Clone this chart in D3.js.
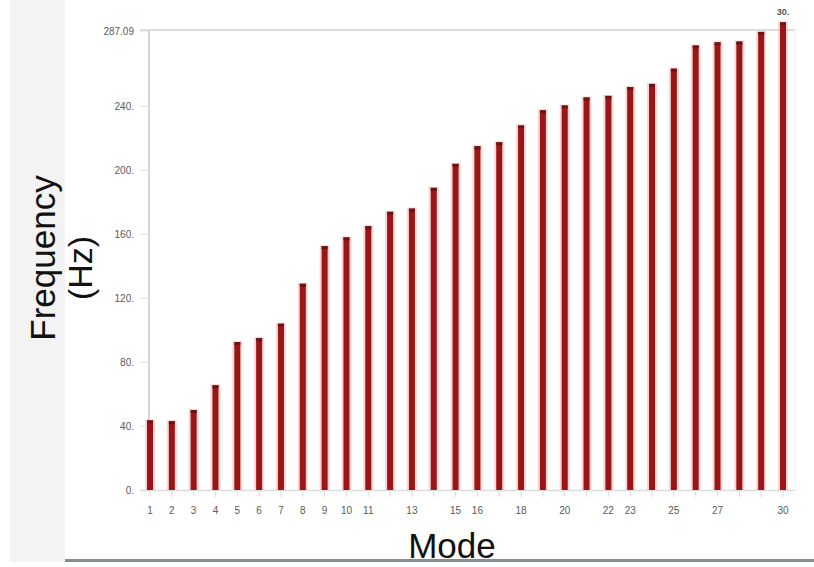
<!DOCTYPE html>
<html lang="en">
<head>
<meta charset="utf-8">
<title>Mode Frequencies</title>
<style>
  body { margin: 0; background: #fff; }
  text { font-family: "Liberation Sans", Arial, sans-serif; }
  .tick-lbl { font-size: 10px; fill: #5a5a5a; }
</style>
</head>
<body>
<svg width="814" height="567"></svg>
<script src="https://cdnjs.cloudflare.com/ajax/libs/d3/7.8.5/d3.min.js"></script>
<script>
// mode numbers and their natural frequencies (Hz)
var modes = d3.range(1, 31);
var freqs = [43.5, 43, 50, 65.5, 92.5, 95, 104, 129, 152.5, 158,
             165, 174, 176, 189, 204, 215, 217.5, 228, 237.5, 240.5,
             245.5, 246.5, 252, 254, 263.5, 278, 280, 280.5, 286.5, 292.5];
var xLabels = [1, 2, 3, 4, 5, 6, 7, 8, 9, 10, 11, 13, 15, 16, 18, 20, 22, 23, 25, 27, 30];
var yTicks = [0, 40, 80, 120, 160, 200, 240, 287.09];
var yTickText = ["0.", "40.", "80.", "120.", "160.", "200.", "240.", "287.09"];

var svg = d3.select("svg");

// light grey strip on the left, and rule along the bottom
svg.append("rect").attr("x", 10).attr("y", 0).attr("width", 55).attr("height", 562).attr("fill", "#f3f3f3");
svg.append("rect").attr("x", 65).attr("y", 559).attr("width", 749).attr("height", 3).attr("fill", "#868c95");

var x = d3.scaleLinear().domain([1, 30]).range([150, 783]);
var y = d3.scaleLinear().domain([0, 287.09]).range([490, 31]);

// plot frame
svg.append("line").attr("x1", 140).attr("x2", 795).attr("y1", 30).attr("y2", 30)
  .attr("stroke", "#dcdcdc").attr("stroke-width", 2);
svg.append("line").attr("x1", 795).attr("x2", 795).attr("y1", 30).attr("y2", 490)
  .attr("stroke", "#ececec").attr("stroke-width", 1);
svg.append("line").attr("x1", 140).attr("x2", 795).attr("y1", 490.5).attr("y2", 490.5)
  .attr("stroke", "#dcdcdc").attr("stroke-width", 1.5);
svg.append("line").attr("x1", 149).attr("x2", 149).attr("y1", 30).attr("y2", 491)
  .attr("stroke", "#d6d6d6").attr("stroke-width", 2);

// y ticks
var yg = svg.append("g");
yg.selectAll("line").data(yTicks).enter().append("line")
  .attr("x1", 140).attr("x2", 148)
  .attr("y1", function(d) { return y(d); }).attr("y2", function(d) { return y(d); })
  .attr("stroke", "#e0e0e0");
yg.selectAll("text").data(yTicks).enter().append("text")
  .attr("class", "tick-lbl")
  .attr("x", 134).attr("y", function(d) { return y(d) + 4; })
  .attr("text-anchor", "end")
  .text(function(d, i) { return yTickText[i]; });

// bars: soft pink halo behind a dark red core
var data = modes.map(function(m, i) { return {mode: m, f: freqs[i]}; });
svg.selectAll("rect.halo").data(data).enter().append("rect")
  .attr("class", "halo")
  .attr("x", function(d) { return x(d.mode) - 5; })
  .attr("y", function(d) { return y(d.f) - 1; })
  .attr("width", 10)
  .attr("height", function(d) { return 491 - y(d.f); })
  .attr("fill", "#f4b8b8").attr("opacity", 0.6);
svg.selectAll("rect.bar").data(data).enter().append("rect")
  .attr("class", "bar")
  .attr("x", function(d) { return x(d.mode) - 3; })
  .attr("y", function(d) { return y(d.f); })
  .attr("width", 6)
  .attr("height", function(d) { return 490 - y(d.f); })
  .attr("fill", "#9a1616");
svg.selectAll("rect.cap").data(data).enter().append("rect")
  .attr("class", "cap")
  .attr("x", function(d) { return x(d.mode) - 3; })
  .attr("y", function(d) { return y(d.f); })
  .attr("width", 6).attr("height", 3)
  .attr("fill", "#6e1212");

// x ticks
svg.selectAll("line.xt").data(modes).enter().append("line")
  .attr("class", "xt")
  .attr("x1", function(d) { return x(d); }).attr("x2", function(d) { return x(d); })
  .attr("y1", 491).attr("y2", 497)
  .attr("stroke", "#e6d6d6");
svg.selectAll("text.xl").data(xLabels).enter().append("text")
  .attr("class", "tick-lbl xl")
  .attr("x", function(d) { return x(d); }).attr("y", 514)
  .attr("text-anchor", "middle")
  .text(function(d) { return d; });

// stray label above the last bar
svg.append("text").attr("class", "tick-lbl")
  .attr("x", x(30)).attr("y", 15).attr("text-anchor", "middle")
  .style("font-size", "9px").style("font-weight", "bold").text("30.");

// axis titles
svg.append("text")
  .attr("transform", "translate(55,258) rotate(-90)")
  .attr("text-anchor", "middle")
  .style("font-size", "35px").attr("fill", "#111")
  .text("Frequency");
svg.append("text")
  .attr("transform", "translate(92,268) rotate(-90)")
  .attr("text-anchor", "middle")
  .style("font-size", "34px").attr("fill", "#111")
  .text("(Hz)");
svg.append("text")
  .attr("x", 452).attr("y", 558)
  .attr("text-anchor", "middle")
  .style("font-size", "35px").attr("fill", "#111")
  .text("Mode");
</script>
</body>
</html>
